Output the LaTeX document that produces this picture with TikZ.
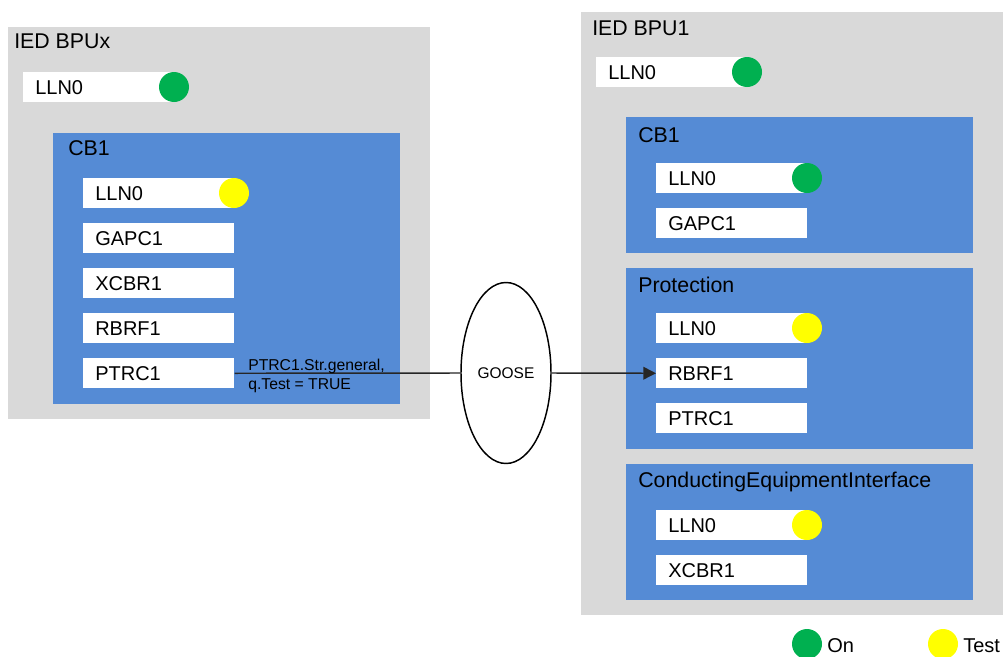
\documentclass[tikz,border=0pt]{standalone}
\usepackage{fontspec}
\setmainfont{Liberation Sans}
\usetikzlibrary{arrows.meta,shapes.geometric}
\definecolor{iedgray}{HTML}{D9D9D9}
\definecolor{ldblue}{HTML}{558BD5}
\definecolor{ongreen}{HTML}{00B050}
\definecolor{testyellow}{HTML}{FFFF00}
\tikzset{
  ied/.style={fill=iedgray, draw=none, inner sep=0, anchor=north west},
  ldev/.style={fill=ldblue, draw=none, inner sep=0, anchor=north west, minimum width=260.25pt},
  lnode/.style={fill=white, draw=none, inner sep=0, anchor=north west, minimum width=113.25pt, minimum height=22.5pt},
  title/.style={font=\fontsize{16}{19}\selectfont, inner sep=0, anchor=base west},
  lntext/.style={font=\fontsize{15}{18}\selectfont, inner sep=0, anchor=base west},
  small/.style={font=\fontsize{11.8}{13.5}\selectfont, inner sep=0, anchor=base west},
  status/.style={circle, inner sep=0, minimum size=22.5pt, draw=none},
  on/.style={status, fill=ongreen},
  test/.style={status, fill=testyellow},
  link/.style={line width=1.1pt, draw=black!85},
}
\newcommand{\lnbox}[4]{% name, x, y, text
  \node[lnode] (#1) at (#2,#3) {};
  \node[lntext] (#1t) at (#2+12,#3+22) {#4};
}
\begin{document}
\begin{tikzpicture}[x=0.75pt,y=-0.75pt]
\useasboundingbox (0,0) rectangle (1008,657);

% ---------- IED BPUx ----------
\node[ied, minimum width=316.5pt, minimum height=294pt] (bpux) at (8,27) {};
\node[title] (bpuxt) at (14,48) {IED BPUx};
\node[lnode, minimum width=112.5pt] (xlln0) at (23,72) {};
\node[lntext] (xlln0t) at (35,94) {LLN0};
\node[on] (xlln0s) at (174,87) {};

\node[ldev, minimum height=203.25pt] (xcb1) at (53,133) {};
\node[title] (xcb1t) at (68,155) {CB1};
\lnbox{xcblln}{83}{178}{LLN0}
\lnbox{xgapc}{83}{223}{GAPC1}
\lnbox{xxcbr}{83}{268}{XCBR1}
\lnbox{xrbrf}{83}{313}{RBRF1}
\lnbox{xptrc}{83}{358}{PTRC1}
\node[test] (xcblls) at (234,193) {};

% ---------- IED BPU1 ----------
\node[ied, minimum width=316.5pt, minimum height=452.25pt] (bpu1) at (581,12) {};
\node[title] (bpu1t) at (592,35) {IED BPU1};
\node[lnode, minimum width=112.5pt] (ylln0) at (596,57) {};
\node[lntext] (ylln0t) at (608,79) {LLN0};
\node[on] (ylln0s) at (747,72) {};

\node[ldev, minimum height=102pt] (ycb1) at (626,117) {};
\node[title] (ycb1t) at (638,142) {CB1};
\lnbox{ycblln}{656}{163}{LLN0}
\lnbox{ygapc}{656}{208}{GAPC1}
\node[on] (ycblls) at (807,178) {};

\node[ldev, minimum height=135.75pt] (yprot) at (626,268) {};
\node[title] (yprott) at (638,292) {Protection};
\lnbox{yprlln}{656}{313}{LLN0}
\lnbox{yrbrf}{656}{358}{RBRF1}
\lnbox{yptrc}{656}{403}{PTRC1}
\node[test] (yprlls) at (807,328) {};

\node[ldev, minimum height=102pt] (ycei) at (626,464) {};
\node[title] (yceit) at (638,487) {ConductingEquipmentInterface};
\lnbox{ycelln}{656}{510}{LLN0}
\lnbox{yxcbr}{656}{555}{XCBR1}
\node[test] (ycells) at (807,525) {};

% ---------- GOOSE message ----------
\node[ellipse, draw=black, line width=1.1pt, fill=white, inner sep=0,
      minimum width=67.5pt, minimum height=135.75pt,
      font=\fontsize{11.6}{13.5}\selectfont] (goose) at (506,373) {GOOSE};
\draw[link] (xptrc.east) -- (goose.west);
\draw[link, -{Triangle[length=9.5pt,width=9.5pt]}] (goose.east) -- (yrbrf.west);
\node[small] (sig1) at (248,370) {PTRC1.Str.general,};
\node[small] (sig2) at (248,389) {q.Test = TRUE};

% ---------- legend ----------
\node[on] (legon) at (807,644) {};
\node[lntext] (legont) at (827,652) {On};
\node[test] (legtest) at (943,644) {};
\node[lntext] (legtestt) at (963,652) {Test};
\end{tikzpicture}
\end{document}
